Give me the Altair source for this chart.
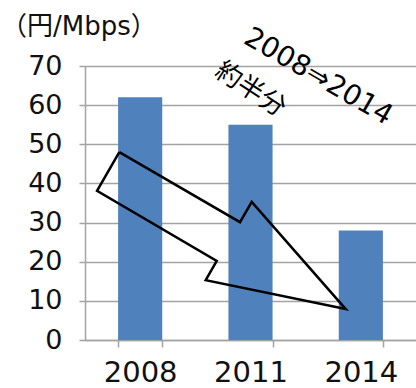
import altair as alt
import pandas as pd

# Bar values (円/Mbps) per year
years = ["2008", "2011", "2014"]
prices = [62, 55, 28]

# Outline of the downward arrow, in (category-position, value) units
arrow_x = [0.311, 0.109, 1.194, 1.094, 2.363, 1.511, 1.405, 0.311]
arrow_y = [48.0, 38.1, 20.2, 15.3, 7.9, 35.3, 30.1, 48.0]

# Rotated annotations
note_text = ["2008⇒2014", "約半分"]
note_x = [2.112, 1.5]
note_y = [67.2, 64.0]
note_size = [28, 26]
note_angle = [30, 33]

unit_label = "（円/Mbps）"

LATIN = "DejaVu Sans, Noto Sans CJK JP"
GRID = "#a3a3a3"

bars_df = pd.DataFrame({"year": years, "price": prices})
arrow_df = pd.DataFrame({"ax": arrow_x, "ay": arrow_y, "idx": list(range(len(arrow_x)))})

y_scale = alt.Scale(domain=[0, 70], nice=False, zero=True)
xq_scale = alt.Scale(domain=[0, 3], nice=False, zero=False)
y_axis = alt.Axis(
    title=None, values=list(range(0, 71, 10)), grid=True, gridColor=GRID,
    gridWidth=1.5, tickSize=6, tickColor=GRID, tickWidth=1.5,
    domainColor=GRID, domainWidth=1.5, labelFont=LATIN, labelFontSize=27,
    labelColor="#111", labelPadding=17,
)

bars = alt.Chart(bars_df).mark_bar(color="#4F81BD").encode(
    x=alt.X(
        "year:N",
        sort=years,
        scale=alt.Scale(paddingInner=0.6, paddingOuter=0.3),
        axis=alt.Axis(
            title=None, labelAngle=0, tickBand="extent", ticks=True, tickSize=7,
            tickColor=GRID, tickWidth=1.5, domainColor=GRID, domainWidth=1.5,
            labelFont=LATIN, labelFontSize=29, labelColor="#111", labelPadding=11,
            grid=False,
        ),
    ),
    y=alt.Y("price:Q", scale=y_scale, axis=y_axis),
)

arrow = alt.Chart(arrow_df).mark_line(
    color="black", strokeWidth=2.5, strokeJoin="miter"
).encode(
    x=alt.X("ax:Q", scale=xq_scale, axis=None),
    y=alt.Y("ay:Q", scale=y_scale, axis=y_axis),
    order="idx:O",
)

notes = []
for t, nx, ny, fs, ang in zip(note_text, note_x, note_y, note_size, note_angle):
    df = pd.DataFrame({"t": [t], "nx": [nx], "ny": [ny]})
    notes.append(
        alt.Chart(df).mark_text(
            angle=ang, fontSize=fs, font=LATIN, align="center",
            baseline="middle", color="black",
        ).encode(
            x=alt.X("nx:Q", scale=xq_scale, axis=None),
            y=alt.Y("ny:Q", scale=y_scale, axis=y_axis),
            text="t:N",
        )
    )

# Unit label above the value axis
unit = alt.Chart(pd.DataFrame({"t": [unit_label]})).mark_text(
    fontSize=26, font=LATIN, align="left", baseline="alphabetic", color="#111"
).encode(x=alt.value(-84), y=alt.value(-31), text="t:N")

chart = alt.layer(bars, arrow, *notes, unit).resolve_scale(x="independent").properties(
    width=331,
    height=274,
    autosize=alt.AutoSizeParams(type="none"),
    padding={"left": 85, "top": 66, "right": 0, "bottom": 48},
).configure_view(stroke=None).configure(background="white")

chart.save("out.html", embed_options={"renderer": "svg", "actions": False})
